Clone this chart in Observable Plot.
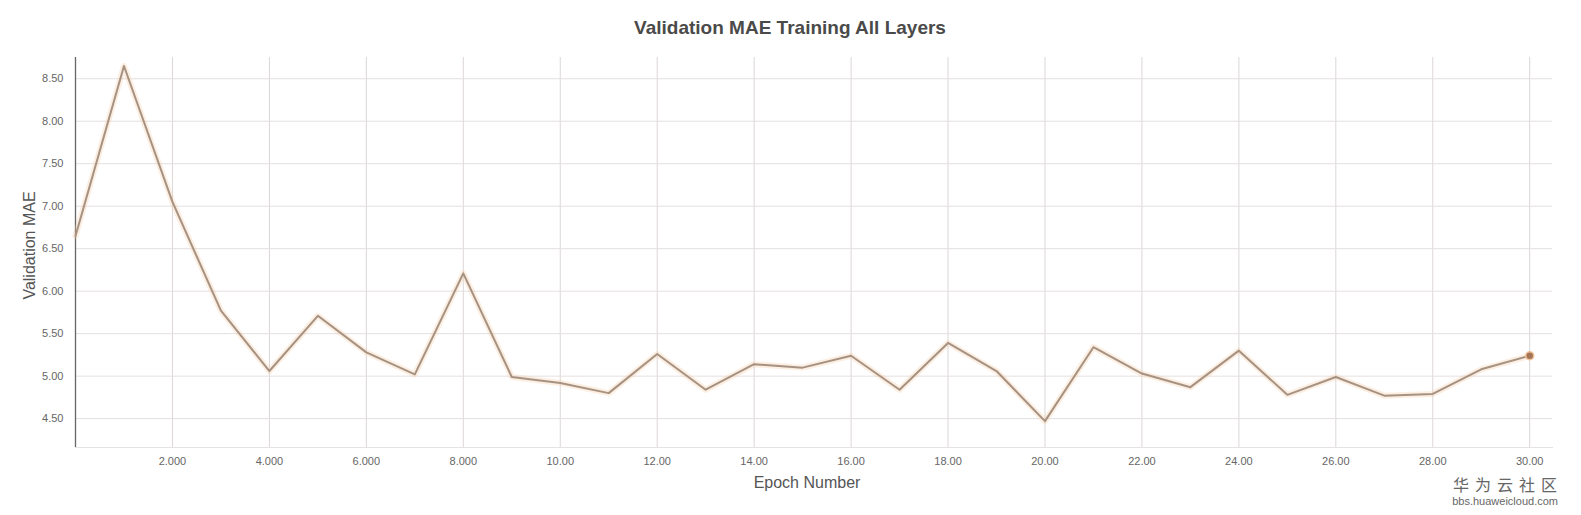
<!DOCTYPE html>
<html>
<head>
<meta charset="utf-8">
<script src="https://cdn.jsdelivr.net/npm/d3@7"></script>
<script src="https://cdn.jsdelivr.net/npm/@observablehq/plot@0.6"></script>
<style>
  html, body { margin: 0; padding: 0; background: #fff; }
  #wrap { position: relative; width: 1581px; height: 515px; font-family: "Liberation Sans", Arial, sans-serif; }
  #title { position: absolute; left: 0; width: 1580px; top: 17px; text-align: center; font-weight: bold; font-size: 19px; color: #4a4a4a; }
  #wm1 { position: absolute; right: 18px; top: 472px; font-family: "Noto Sans CJK SC", sans-serif; font-size: 16px; color: #666; letter-spacing: 6px; }
  #wm2 { position: absolute; right: 23px; top: 495px; font-size: 11px; color: #666; }
</style>
</head>
<body>
<div id="wrap">
  <div id="chart"></div>
  <div id="title">Validation MAE Training All Layers</div>
  <div id="wm1">华为云社区</div>
  <div id="wm2">bbs.huaweicloud.com</div>
</div>
<script>
const epochs = [0,1,2,3,4,5,6,7,8,9,10,11,12,13,14,15,16,17,18,19,20,21,22,23,24,25,26,27,28,29,30];
const mae = [6.65,8.65,7.05,5.77,5.06,5.71,5.28,5.02,6.21,4.99,4.92,4.80,5.26,4.84,5.14,5.10,5.24,4.84,5.39,5.06,4.47,5.34,5.03,4.87,5.30,4.78,4.99,4.77,4.79,5.08,5.24];
const xTicks = [2,4,6,8,10,12,14,16,18,20,22,24,26,28,30];
const yTicks = [4.5,5.0,5.5,6.0,6.5,7.0,7.5,8.0,8.5];
const xDomain = [0, 30.47];
const yDomain = [4.16, 8.75];

const data = epochs.map((e, i) => ({epoch: e, mae: mae[i]}));
const last = [data[data.length - 1]];

const plot = Plot.plot({
  width: 1581,
  height: 515,
  marginLeft: 75,
  marginRight: 29,
  marginTop: 57,
  marginBottom: 68,
  style: { fontFamily: "Liberation Sans, Arial, sans-serif", background: "#fff" },
  x: { domain: xDomain },
  y: { domain: yDomain },
  marks: [
    Plot.gridX(xTicks, { stroke: "#dcd6d6", strokeOpacity: 1, strokeWidth: 1 }),
    Plot.gridY(yTicks, { stroke: "#e6e0e0", strokeOpacity: 1, strokeWidth: 1 }),
    Plot.frame({ anchor: "bottom", stroke: "#e6e2e2" }),
    Plot.axisX(xTicks, { tickSize: 0, tickPadding: 10, tickFormat: d3.format(".4r"), fontSize: 11, color: "#666", label: null }),
    Plot.axisY(yTicks, { tickSize: 0, tickPadding: 12, tickFormat: d3.format(".2f"), fontSize: 11, color: "#666", label: null }),
    Plot.text(["Epoch Number"], { frameAnchor: "bottom", dy: 40, dx: -7, fontSize: 16, fill: "#555" }),
    Plot.text(["Validation MAE"], { frameAnchor: "left", textAnchor: "middle", dx: -46, dy: -7, rotate: -90, fontSize: 16, fill: "#555" }),
    Plot.ruleX([0], { stroke: "#666", strokeWidth: 1.3 }),
    Plot.line(data, { x: "epoch", y: "mae", stroke: "#f6c79c", strokeWidth: 6, strokeOpacity: 0.3 }),
    Plot.line(data, { x: "epoch", y: "mae", stroke: "#a69282", strokeWidth: 2 }),
    Plot.dot(last, { x: "epoch", y: "mae", r: 4, fill: "#a57559", stroke: "#f3c49a", strokeWidth: 1.5 })
  ]
});
document.getElementById("chart").appendChild(plot);
</script>
</body>
</html>
